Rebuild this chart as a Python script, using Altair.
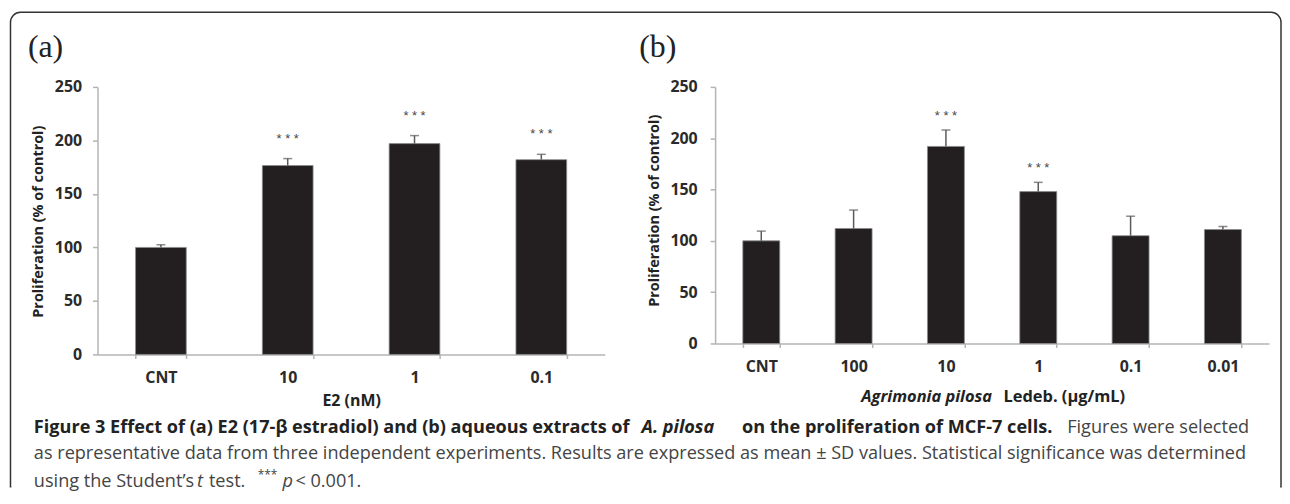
import altair as alt
import pandas as pd

# ---------------- data ----------------
doses_a = ["CNT", "10", "1", "0.1"]
means_a = [100, 176.5, 197, 182]
sd_a = [2.5, 6.5, 7.5, 5]
sig_a = ["", "***", "***", "***"]

doses_b = ["CNT", "100", "10", "1", "0.1", "0.01"]
means_b = [100, 112, 192, 148, 105, 111]
sd_b = [9.5, 18, 16, 9, 19, 3]
sig_b = ["", "", "***", "***", "", ""]

y_ticks = [0, 50, 100, 150, 200, 250]

panel_labels = ["(a)", "(b)"]
y_title = "Proliferation (% of control)"
x_title_a = "E2 (nM)"
x_title_b_italic = "Agrimonia pilosa"
x_title_b_plain = "Ledeb. (\u03bcg/mL)"

cap1 = ["Figure 3 Effect of (a) E2 (17-\u03b2 estradiol) and (b) aqueous extracts of",
        "A. pilosa",
        "on the proliferation of MCF-7 cells.",
        "Figures were selected"]
cap2 = ["as representative data from three independent experiments. Results are expressed as mean \u00b1 SD values. Statistical significance was determined"]
cap3 = ["using the Student\u2019s", "t", "test.", "***", "p", "< 0.001."]

df_a = pd.DataFrame({"dose": doses_a, "mean": means_a, "sd": sd_a, "sig": sig_a})
df_b = pd.DataFrame({"dose": doses_b, "mean": means_b, "sd": sd_b, "sig": sig_b})

BAR = "#231f20"
ERR = "#5a5a5a"
AX = "#b4b4b4"
FONT = "Open Sans"


def txt(s, x, y, size, weight="normal", style="normal", color="#222222", font=FONT, align="left"):
    return alt.Chart(pd.DataFrame({"t": [s]})).mark_text(
        align=align, baseline="middle", font=font, fontSize=size,
        fontWeight=weight, fontStyle=style, color=color
    ).encode(x=alt.value(x), y=alt.value(y), text="t:N")


def panel(df, doses, w, h, title_x, title_y, x_title, x_title_y, star_dy, label_pad_y):
    xenc = alt.X("dose:N", sort=doses,
                 scale=alt.Scale(paddingInner=0.6, paddingOuter=0.3),
                 axis=alt.Axis(title=x_title if x_title else None, labelAngle=0,
                               tickBand="extent", tickSize=4, labelBaseline="middle",
                               labelPadding=19, titleY=x_title_y, titleBaseline="middle",
                               titleFontSize=16, titleFontWeight="bold", titleColor="#222"))
    yenc = alt.Y("mean:Q", scale=alt.Scale(domain=[0, 250], nice=False),
                 axis=alt.Axis(values=y_ticks, title=y_title, tickSize=5,
                               labelPadding=label_pad_y, titleAngle=270,
                               titleX=title_x, titleY=title_y, titleBaseline="middle",
                               titleAlign="center",
                               titleFontSize=14.5, titleFontWeight="bold", titleColor="#222"))
    base = alt.Chart(df).transform_calculate(
        top="datum.mean + datum.sd",
        star="join(split(datum.sig, ''), ' ')")
    bars = base.mark_bar(color=BAR, stroke="#8c8c8c", strokeWidth=0.8).encode(x=xenc, y=yenc)
    err = base.mark_rule(color=ERR, strokeWidth=1.5).encode(
        x=alt.X("dose:N", sort=doses), y="mean:Q", y2="top:Q")
    cap = base.mark_tick(color=ERR, thickness=1.5, size=9, orient="horizontal").encode(
        x=alt.X("dose:N", sort=doses), y="top:Q")
    stars = base.mark_text(dy=star_dy, font="Liberation Sans", fontSize=13, color="#444",
                           baseline="middle").encode(
        x=alt.X("dose:N", sort=doses), y="top:Q", text="star:N")
    return alt.layer(bars, err, cap, stars).properties(width=w, height=h)


WA, HA = 510, 269
WB, HB = 557, 258

pa = panel(df_a, doses_a, WA, HA, -59.5, 135, x_title_a, 46.7, -20, 11)
pb = panel(df_b, doses_b, WB, HB, -60.5, 124, None, 0, -14, 13)

frame = alt.Chart(pd.DataFrame({"k": [0]})).mark_rect(
    fillOpacity=0, stroke="#333333", strokeWidth=1.5,
    cornerRadiusTopLeft=10, cornerRadiusTopRight=10
).encode(x=alt.value(-87.5), x2=alt.value(1190), y=alt.value(-75), y2=alt.value(402))
cover = alt.Chart(pd.DataFrame({"k": [0]})).mark_rule(color="white", strokeWidth=3).encode(
    x=alt.value(-86.6), x2=alt.value(1189.1), y=alt.value(402))

CY1, CY2, CY3 = 343, 369, 397
CS = 18.2
caption = [
    txt(cap1[0], -64, CY1, CS, weight="bold"),
    txt(cap1[1], 547, CY1, CS, weight="bold", style="italic"),
    txt(cap1[2], 648, CY1, CS, weight="bold"),
    txt(cap1[3], 975, CY1, CS, color="#444444"),
    txt(cap2[0], -64, CY2, CS, color="#444444"),
    txt(cap3[0], -64, CY3, CS, color="#444444"),
    txt(cap3[1], 100, CY3, CS, style="italic", color="#444444"),
    txt(cap3[2], 112, CY3, CS, color="#444444"),
    txt(cap3[3], 161, CY3 - 7, 12, color="#444444"),
    txt(cap3[4], 186, CY3, CS, style="italic", color="#444444"),
    txt(cap3[5], 199, CY3, CS, color="#444444"),
]

label_a = txt(panel_labels[0], -70, -40, 32, font="Liberation Serif", color="#222")
label_b = txt(panel_labels[1], -76.3, -40, 32, font="Liberation Serif", color="#222")

xt_b1 = txt(x_title_b_italic, 147, HB + 53.5, 16.5, weight="bold", style="italic")
xt_b2 = txt(x_title_b_plain, 290, HB + 53.5, 16.5, weight="bold")

left = alt.layer(frame, cover, pa, label_a, *caption)
right = alt.layer(pb, label_b, xt_b1, xt_b2)

chart = alt.hconcat(left, right, spacing=111, bounds="flush").properties(
    padding={"left": 1, "top": 2, "right": 0, "bottom": 0}
).configure_view(strokeWidth=0).configure_axis(
    domainColor=AX, tickColor=AX, domainWidth=1.5, tickWidth=1.5, grid=False,
    labelFont=FONT, labelFontSize=16, labelFontWeight="bold", labelColor="#2a2a2a",
    titleFont=FONT
)

chart.save("out.html", embed_options={"renderer": "svg", "actions": False})
